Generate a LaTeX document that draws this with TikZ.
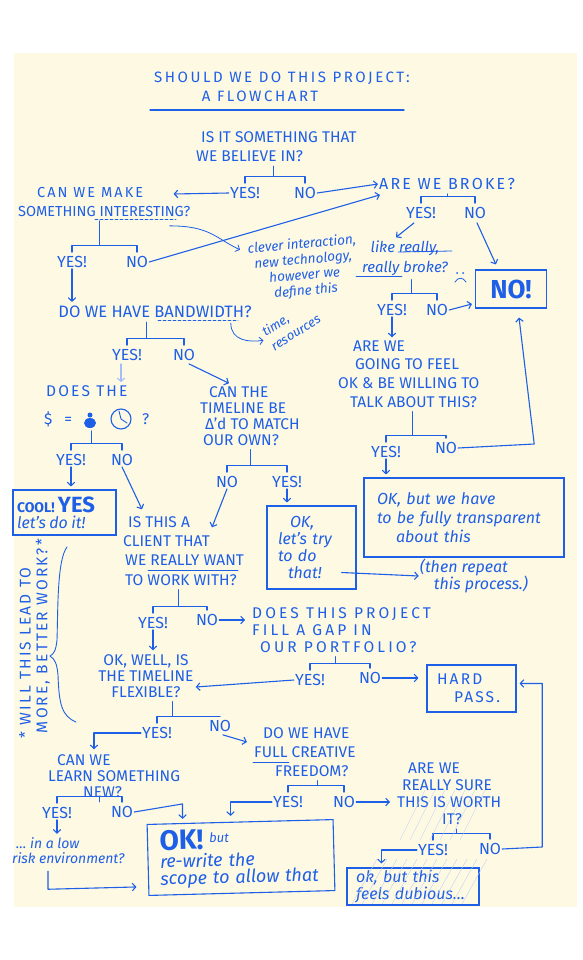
\documentclass[tikz,border=0pt]{standalone}
\usepackage{fontspec}
\setmainfont{Fira Sans}
\newfontfamily\spaced[LetterSpace=14]{Fira Sans}
\newfontfamily\wide[LetterSpace=20]{Fira Sans}
\newfontfamily\titlefont[LetterSpace=17]{Fira Sans}
\usepackage{xcolor}
\usetikzlibrary{arrows.meta}
\usetikzlibrary{calc}

\definecolor{pen}{RGB}{30,95,232}
\definecolor{paper}{RGB}{254,249,226}

% bracket under a question: question, left answer, right answer
\newcommand{\fork}[4][.5]{%
  \draw[ink] ([yshift=3pt]#3.north) -- ++(0,-7) coordinate (fk) -| ([yshift=3pt]#4.north);
  \coordinate (fm) at ($(fk)!#1!(fk -| #4.north)$);
  \draw[ink] (fm) -- ($(fm |- #2.south)+(0,3)$);
}

\tikzset{
  ink/.style={draw=pen, line width=1.1pt, line cap=round, line join=round},
  caps/.style={text=pen, font=\fontsize{15.5}{19}\selectfont, inner sep=1pt},
  ans/.style={text=pen, font=\fontsize{16}{16}\selectfont, inner sep=1pt},
  note/.style={text=pen, font=\itshape\fontsize{14}{16}\selectfont, inner sep=1pt},
  box/.style={draw=pen, line width=1.1pt, text=pen},
}

\begin{document}
\begin{tikzpicture}[x=1pt, y=-1pt, >={Straight Barb[length=3.5pt,width=7.5pt]}]
\useasboundingbox (0,0) rectangle (582,960);
\fill[white] (0,0) rectangle (582,960);
\fill[paper] (14,53) rectangle (577,907);

% title
\node[caps, font=\titlefont\fontsize{15}{16}\selectfont] (title1) at (282,78) {SHOULD WE DO THIS PROJECT:};
\node[caps, font=\titlefont\fontsize{15}{16}\selectfont] (title2) at (260,96) {A FLOWCHART};
\draw[ink] (150,110) -- (404,110);

% questions and answers
\node[caps, align=left, anchor=west] (q1) at (195,147) {\hspace*{5pt}IS IT SOMETHING THAT\\WE BELIEVE IN?};
\node[ans] (y1) at (245,193) {YES!};
\node[ans] (n1) at (305,193) {NO};

\node[caps, align=left, anchor=west, font=\fontsize{14.5}{19}\selectfont] (qmake) at (17,202) {\hspace*{19pt}{\spaced CAN WE MAKE}\\SOMETHING INTERESTING?};
\node[caps, font=\spaced\fontsize{16}{19}\selectfont] (qbroke) at (447,184) {ARE WE BROKE?};
\node[ans] (y2) at (421,213) {YES!};
\node[ans] (n2) at (475,213) {NO};
\node[ans] (y3) at (72,262) {YES!};
\node[ans] (n3) at (137,262) {NO};

\node[note, align=center, rotate=5, font=\itshape\fontsize{13.5}{15.5}\selectfont] (idea) at (304,268) {clever interaction,\\new technology,\\however we\\define this};
\node[note, align=center, font=\itshape\fontsize{15}{20}\selectfont] (qreally) at (405,258) {like really,\\really broke?};
\node[box, minimum width=71pt, minimum height=38pt, font=\bfseries\fontsize{26}{26}\selectfont] (nobox) at (511,289) {NO!};
\node[ans] (y4) at (392,310) {YES!};
\node[ans] (n4) at (437,310) {NO};

\node[caps, align=left, anchor=west, font=\fontsize{15.5}{18.7}\selectfont] (qfeel) at (337,374) {\hspace*{15pt}ARE WE\\\hspace*{17pt}GOING TO FEEL\\OK \& BE WILLING TO\\\hspace*{12pt}TALK ABOUT THIS?};
\node[ans] (y5) at (386,452) {YES!};
\node[ans] (n5) at (446,448) {NO};
\node[box, note, align=left, text width=180pt, inner xsep=10pt, minimum width=200pt, minimum height=79pt, font=\itshape\fontsize{16}{19}\selectfont] (okbox) at (464,517.5) {\hspace*{3pt}OK, but we have\\\hspace*{3pt}to be fully transparent\\\hspace*{22pt}about this};

\node[caps, font=\fontsize{16.5}{19}\selectfont] (qband) at (155,312) {DO WE HAVE BANDWIDTH?};
\node[note, align=left, rotate=32, font=\itshape\fontsize{13}{17}\selectfont] (tr) at (291,325) {time,\\resources};
\node[ans] (y6) at (127,355) {YES!};
\node[ans] (n6) at (184,355) {NO};

\node[caps, align=left, anchor=west, font=\fontsize{15.5}{28}\selectfont] (qdoes) at (43,406) {\hspace*{2pt}{\spaced DOES THE}\\\$\hspace*{12pt}=\hspace*{70pt}?};
\node[ans] (yd) at (71,460) {YES!};
\node[ans] (nd) at (122,460) {NO};
\node[box, align=left, text width=95pt, inner xsep=4pt, inner ysep=1pt, minimum width=103pt, minimum height=45pt] (cool) at (64.5,512.5) {{\bfseries\fontsize{14}{14}\selectfont COOL!\ }{\fontsize{22}{22}\selectfont\bfseries YES}\\[2pt]{\itshape\fontsize{16}{16}\selectfont let's do it!}};

\node[caps, align=left, anchor=west, font=\fontsize{15.5}{16}\selectfont] (qtime) at (199,416) {\hspace*{9pt}CAN THE\\TIMELINE BE\\\hspace*{5pt}Δ'd TO MATCH\\\hspace*{3pt}OUR OWN?};
\node[ans] (ntime) at (227,482) {NO};
\node[ans] (ytime) at (287,482) {YES!};
\node[box, note, align=left, text width=69pt, inner xsep=10pt, minimum width=89pt, minimum height=83pt, font=\itshape\fontsize{16}{17}\selectfont] (trybox) at (311.5,547.5) {\hspace*{13pt}OK,\\\hspace*{1pt}let's try\\\hspace*{1pt}to do\\\hspace*{11pt}that!};
\node[note, align=left, font=\itshape\fontsize{16}{17}\selectfont] (repeat) at (474,576) {(then repeat\\\hspace*{14pt}this process.)};

\node[caps, align=left, anchor=west, font=\fontsize{15.5}{19.3}\selectfont] (qclient) at (122,551) {\hspace*{5pt}IS THIS A\\CLIENT THAT\\\hspace*{2pt}WE REALLY WANT\\\hspace*{2pt}TO WORK WITH?};
\node[ans] (yc) at (153,623) {YES!};
\node[ans] (nc) at (207,620) {NO};
\node[caps, align=left, anchor=west, font=\wide\fontsize{15.5}{17}\selectfont] (qgap) at (251,630) {DOES THIS PROJECT\\FILL A GAP IN\\\hspace*{8pt}OUR PORTFOLIO?};
\node[caps, align=center, font=\fontsize{15.5}{16}\selectfont] (qflex) at (146,676) {OK, WELL, IS\\THE TIMELINE\\FLEXIBLE?};
\node[ans] (yg) at (310,680) {YES!};
\node[ans] (ng) at (370,678) {NO};
\node[box, caps, align=left, text width=69pt, inner xsep=10pt, minimum width=89pt, minimum height=47pt, font=\spaced\fontsize{15.5}{18}\selectfont] (hard) at (471.5,688.5) {HARD\\\hspace*{17pt}PASS.};

\node[ans] (yf) at (157,733) {YES!};
\node[ans] (nf) at (220,726) {NO};
\node[caps, align=left, anchor=west, font=\fontsize{15.5}{19}\selectfont] (qfree) at (253,752) {\hspace*{9pt}DO WE HAVE\\FULL CREATIVE\\\hspace*{21pt}FREEDOM?};
\node[caps, align=left, anchor=west, font=\fontsize{15.5}{16}\selectfont] (qlearn) at (47,776) {\hspace*{9pt}CAN WE\\LEARN SOMETHING\\\hspace*{35pt}NEW?};
\node[ans] (yl) at (57,813) {YES!};
\node[ans] (nl) at (122,812) {NO};
\node[note, align=left, anchor=west, font=\itshape\fontsize{14}{15}\selectfont] (qrisk) at (11,851) {\hspace*{4pt}\dots\ in a low\\risk environment?};
\node[ans] (yfr) at (288,802) {YES!};
\node[ans] (nfr) at (344,802) {NO};
\node[box, note, align=left, text width=162pt, inner xsep=12pt, minimum width=186pt, minimum height=71pt, rotate=1.5, font=\itshape\fontsize{18}{17}\selectfont] (okbig) at (241,857.5) {{\bfseries\upshape\fontsize{28}{28}\selectfont OK!}\ \raisebox{6pt}{\fontsize{13}{13}\selectfont but}\\[1pt]re-write the\\scope to allow that};
\node[caps, align=left, anchor=west, font=\fontsize{15.5}{17}\selectfont] (qsure) at (396,794) {\hspace*{11pt}ARE WE\\\hspace*{5pt}REALLY SURE\\THIS IS WORTH\\\hspace*{45pt}IT?};
\node[ans] (ys) at (433,850) {YES!};
\node[ans] (ns) at (490,849) {NO};
\node[box, note, align=left, text width=114pt, inner xsep=9pt, minimum width=132pt, minimum height=37pt, font=\itshape\fontsize{16}{17}\selectfont] (dubious) at (413,886.5) {ok, but this\\feels dubious\dots};

% side remark
\node[caps, rotate=90, font=\spaced\fontsize{15.5}{16}\selectfont] (lead1) at (25,653) {* WILL THIS LEAD TO};
\node[caps, rotate=90, font=\spaced\fontsize{15.5}{16}\selectfont] (lead2) at (43,636) {MORE, BETTER WORK?*};
\draw[ink, line width=.9pt] (67,547) .. controls (57,560) and (58,610) .. (57,640) .. controls (56,650) and (54,654) .. (50,656) .. controls (55,659) and (57,664) .. (58,675) .. controls (59,705) and (62,716) .. (76,722);

% brackets
\fork[.48]{q1}{y1}{n1}
\fork[.49]{qbroke}{y2}{n2}
\fork[.42]{qmake}{y3}{n3}
\fork[.43]{qreally}{y4}{n4}
\fork[.44]{qfeel}{y5}{n5}
\fork[.34]{qband}{y6}{n6}
\fork[.4]{qdoes}{yd}{nd}
\fork[.39]{qtime}{ntime}{ytime}
\fork[.48]{qclient}{yc}{nc}
\fork[.43]{qgap}{yg}{ng}
\fork[.25]{qflex}{yf}{nf}
\fork[.52]{qfree}{yfr}{nfr}
\fork[.65]{qlearn}{yl}{nl}
\fork[.41]{qsure}{ys}{ns}

% arrows
\draw[ink,->] (y1.west) -- ($(qmake.east)+(-18,-8)$);
\draw[ink,->] (n1.east) -- (qbroke.west);
\draw[ink,->] (n3.east) -- ($(qbroke.south west)+(2,4)$);
\draw[ink,->,line width=.8pt] ($(qmake.south east)+(-22,8)$) .. controls +(40,0) and +(-25,-12) .. ($(idea.north west)+(-6,8)$);
\draw[ink,->] ($(y2.south)+(-7,3)$) -- ($(qreally.north)+(-9,-2)$);
\draw[ink,->] ($(n2.south)+(2,3)$) -- ($(nobox.north west)+(21,-5)$);
\draw[ink,->] (n4.east) -- ($(nobox.west)+(-3,15)$);
\draw[ink,->] (y4.south) -- ($(y4.south |- qfeel.north)+(0,-2)$);
\draw[ink,->] (n5.east) -- ++(76,-4) -- ($(nobox.south)+(8,9)$);
\draw[ink,->] (y5.south) -- ($(y5.south |- okbox.north)+(0,-3)$);
\draw[ink,->] (y3.south) -- ($(y3.south |- qband.north)+(0,-3)$);
\draw[ink,->,line width=.8pt] ($(qband.south east)+(-22,4)$) .. controls +(0,18) and +(-14,2) .. ($(tr.west)+(-3,0)$);
\draw[ink,->,draw=pen!40] ($(y6.south)+(-6,2)$) -- ($(y6.south |- qdoes.north)+(-6,-2)$);
\draw[ink,->] ($(n6.south)+(5,2)$) -- ($(qtime.north west)+(30,-2)$);
\draw[ink,->] (yd.south) -- ($(yd.south |- cool.north)+(0,-3)$);
\draw[ink,->] (nd.south) -- ($(qclient.north west)+(20,-6)$);
\draw[ink,->] (ntime.south) -- ($(qclient.north west)+(90,12)$);
\draw[ink,->] (ytime.south) -- ($(ytime.south |- trybox.north)+(0,-3)$);
\draw[ink,->] ($(trybox.east)+(-15,25)$) -- (repeat.west);
\draw[ink,->] (yc.south) -- ($(yc.south |- qflex.north)+(0,-3)$);
\draw[ink,->] (nc.east) -- ($(qgap.west |- nc.east)+(-6,0)$);
\draw[ink,->] (yg.west) -- ($(qflex.east)+(1,11)$);
\draw[ink,->] (ng.east) -- ($(hard.west |- ng.east)+(-8,0)$);
\draw[ink,->] (yf.west) -| ($(qlearn.north west)+(47,-4)$);
\draw[ink,->] ($(nf.south)+(3,2)$) -- ($(qfree.west)+(-6,-10)$);
\draw[ink,->] (yl.south) -- ($(yl.south |- qrisk.north)+(0,-3)$);
\draw[ink,->] (nl.east) -- ($(okbig.north west)+(36,-20)$) -- ($(okbig.north west)+(36,-5)$);
\draw[ink,->] ($(qrisk.south west)+(37,6)$) -- ++(0,18) -- ($(okbig.west)+(-11,27)$);
\draw[ink,->] (yfr.west) -| ($(okbig.north west)+(84,-8)$);
\draw[ink,->] (nfr.east) -- ($(qsure.west |- nfr.east)+(-6,0)$);
\draw[ink,->] (ys.west) -| ($(dubious.north west)+(35,-4)$);
\draw[ink,->] (ns.east) -- ++(40,-2) |- ($(hard.east)+(3,-5)$);

% underlines and doodles
\draw[ink, line width=.8pt, dash pattern=on 3pt off 2pt] (95,219) -- (176,219);
\draw[ink, line width=.8pt, dash pattern=on 3pt off 2pt] (158,320) -- (238,320);
\draw[ink, line width=.8pt] (398,252) -- (452,251);
\draw[ink, line width=.8pt] (356,276) -- (402,276);
\draw[ink, line width=.8pt] (148,570) -- (238,570);
\draw[ink, line width=.8pt] (253,762) -- (289,762);
\fill[pen] (457,273) circle (1pt) (463,273) circle (1pt);
\draw[ink, line width=.8pt] (455,282) .. controls (458,277) and (463,277) .. (466,282);
\fill[pen] (90,423) ellipse (6pt and 5pt);
\fill[pen] (90,415) circle (2.5pt);
\draw[ink] (121,419) circle (10pt);
\draw[ink, line width=.9pt] (121,419) -- (119,411) (121,419) -- (127,423);
\foreach \i in {0,...,11} \draw[pen!30, line width=.4pt] ({352+\i*10},904) -- ++(25,-45);
\foreach \i in {0,...,6} \draw[pen!30, line width=.4pt] ({400+\i*10},840) -- ++(25,-50);
\end{tikzpicture}
\end{document}
